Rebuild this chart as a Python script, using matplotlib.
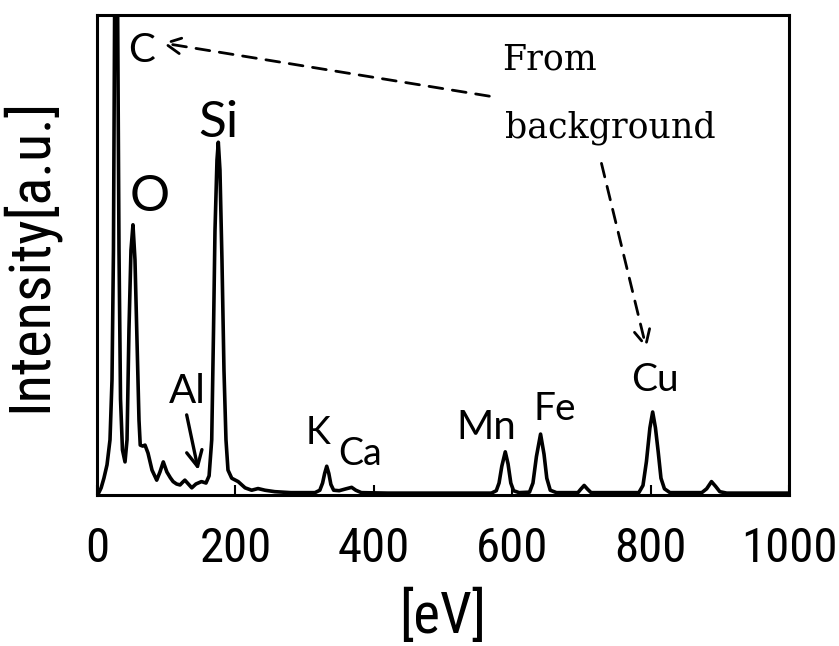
import os
import matplotlib
matplotlib.use('Agg')
import matplotlib.pyplot as plt
from matplotlib import font_manager as fm
from matplotlib.textpath import TextPath

# spectrum (energy in eV, intensity in a.u.)
energy = [2, 6, 10, 14.5, 18.8, 21.7, 23.8, 27.5, 31.8, 34, 36.8, 40.5,
          43.4, 46.2, 49.1, 52, 54.9, 57.8, 60.7, 62.5, 66, 69.4, 73.7, 79.5,
          86.3, 91, 95.8, 101, 106, 110, 115, 120, 124, 127, 132, 137, 143,
          151, 157.5, 162, 165.8, 168.4, 170.5, 173.4, 175.3, 177.7, 180.6,
          183.5, 186.4, 189.3, 194.7, 204, 214, 223.5, 232.7, 242.8, 257, 280,
          315, 322, 326, 329, 332, 335, 338, 342, 350, 360, 368, 374, 382, 420,
          570, 577, 581, 585, 590, 594, 598, 602, 610, 625, 630, 635, 641, 646,
          650, 655, 664, 695, 699, 704, 709, 714, 783, 789, 794, 799, 803, 807,
          811, 815, 820, 828, 874, 881, 888, 894, 900, 910, 1000]
intensity = [0.3, 1.5, 3.5, 6.3, 11.5, 24, 51, 160, 51, 20, 9.4, 6.9,
             11.5, 34.4, 51, 56.3, 49, 32.3, 15.6, 10.4, 10.2, 10.4, 8.75, 5.2,
             3.1, 4.8, 6.9, 4.8, 3.6, 2.8, 2.3, 2.1, 2.7, 3.1, 2.3, 1.5, 2.3,
             2.8, 2.5, 4, 11.5, 34.4, 55, 69.8, 73.5, 67.7, 49,
             26, 11.5, 5.2, 3.5, 2.8, 1.5, 1.0, 1.35, 1.0, 0.7, 0.5,
             0.5, 1.0, 2.5, 4.5, 6.0, 4.5, 2.2, 1.0, 0.9, 1.3, 1.6, 1.0, 0.5, 0.4,
             0.4, 0.9, 2.5, 6, 9.0, 6.5, 2.5, 0.9, 0.5, 0.6, 2.5, 8, 12.7, 8.5,
             3.5, 1.0, 0.5, 0.5, 1.2, 2.0, 1.2, 0.5, 0.5, 2.0, 7, 14, 17.3, 14,
             9, 3.5, 1.3, 0.5, 0.5, 1.3, 2.8, 1.8, 0.7, 0.4, 0.4]

xticks = [0, 200, 400, 600, 800, 1000]

# element labels: (text, x, y, size)
elements = [('C', 65, 92.7, 29), ('Si', 175, 77.5, 37), ('O', 76.6, 62, 36),
            ('Al', 130, 21.5, 29), ('K', 319, 13, 27), ('Ca', 380, 8.5, 27),
            ('Mn', 562, 14, 29), ('Fe', 662, 18, 28), ('Cu', 806, 24, 28)]

DPI = 100
label_font = ['Lato', 'DejaVu Sans']


# the axis texts in the reference are set in a narrow face; use one if installed
def find_narrow():
    skip = ('bold', 'italic', 'oblique', 'light', 'thin', 'medium', 'semi',
            'black', 'extra', 'heavy')
    cands = []
    for f in fm.fontManager.ttflist:
        base = os.path.basename(f.fname).lower()
        if ('narrow' in base or 'condensed' in base) and not any(k in base for k in skip):
            cands.append(f.fname)
    for pref in ('liberationsansnarrow', 'robotocondensed', 'roboto', 'opensans',
                 'notosans', 'dejavusans'):
        for c in cands:
            if pref in os.path.basename(c).lower().replace('-', '').replace('_', ''):
                return fm.FontProperties(fname=c)
    if cands:
        return fm.FontProperties(fname=cands[0])
    return fm.FontProperties(family='Lato')


narrow = find_narrow()


def size_for(text, width_px, height_px=None):
    ext = TextPath((0, 0), text, size=100, prop=narrow).get_extents()
    s = width_px * 72 / DPI * 100 / ext.width
    if height_px is not None:
        s = min(s, height_px * 72 / DPI * 100 / ext.height)
    return s


tick_size = size_for('1000', 90, 40)
xlab_size = size_for('[eV]', 88, 55)
ylab_size = size_for('Intensity[a.u.]', 305)

fig = plt.figure(figsize=(8.39, 6.46), dpi=DPI)
ax = fig.add_axes([0.1156, 0.2337, 0.8248, 0.743])

ax.plot(energy, intensity, color='black', lw=2.6, solid_joinstyle='round')
ax.set_xlim(0, 1000)
ax.set_ylim(0, 100)

for s in ax.spines.values():
    s.set_linewidth(2.2)

ax.set_xticks(xticks)
ax.tick_params(axis='x', direction='in', length=7, width=1.5, pad=22)
for lab in ax.get_xticklabels():
    lab.set_fontproperties(narrow)
    lab.set_fontsize(tick_size)
ax.set_yticks([])

ax.set_xlabel('[eV]', fontproperties=narrow, fontsize=xlab_size, labelpad=13)
ax.set_ylabel('Intensity[a.u.]', fontproperties=narrow, fontsize=ylab_size,
              labelpad=28)

for txt, x, y, size in elements:
    ax.text(x, y, txt, fontsize=size, family=label_font, ha='center', va='center')

ax.text(585, 88.75, 'From', fontsize=25, family='DejaVu Serif', ha='left', va='baseline')
ax.text(590, 74.4, 'background', fontsize=25, family='DejaVu Serif', ha='left', va='baseline')

# arrows
ax.annotate('', xy=(94, 94.2), xytext=(567, 83.1),
            arrowprops=dict(arrowstyle='->', lw=2, linestyle=(0, (5, 3.5)),
                            mutation_scale=28, shrinkA=0, shrinkB=0))
ax.annotate('', xy=(794, 30.5), xytext=(729, 69.1),
            arrowprops=dict(arrowstyle='->', lw=2, linestyle=(0, (5, 3.5)),
                            mutation_scale=28, shrinkA=0, shrinkB=0))
ax.annotate('', xy=(146.4, 5.2), xytext=(129.6, 16.7),
            arrowprops=dict(arrowstyle='->', lw=2.4,
                            mutation_scale=28, shrinkA=0, shrinkB=0))

fig.savefig('out.png', dpi=DPI)
